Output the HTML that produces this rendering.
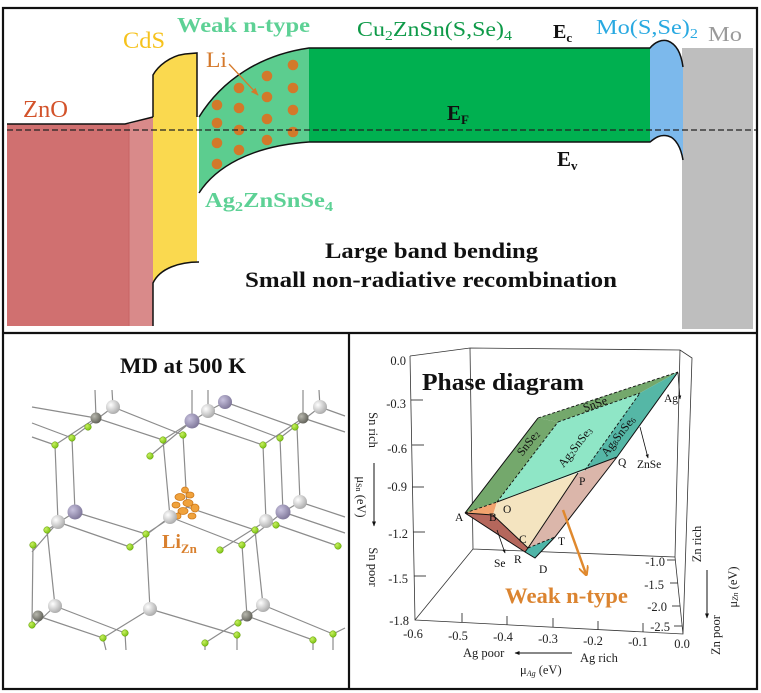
<!DOCTYPE html>
<html><head><meta charset="utf-8"><style>
html,body{margin:0;padding:0;background:#fff;}
svg{display:block;font-family:"Liberation Serif",serif;}
</style></head><body>
<svg width="761" height="693" viewBox="0 0 761 693" xmlns="http://www.w3.org/2000/svg">
<defs>
<marker id="ah" viewBox="0 0 10 10" refX="9" refY="5" markerWidth="5" markerHeight="5" orient="auto"><path d="M0,1 L10,5 L0,9 z" fill="#111"/></marker>
<marker id="ahor" viewBox="0 0 10 10" refX="9" refY="5" markerWidth="6" markerHeight="6" orient="auto"><path d="M0,1 L10,5 L0,9 z" fill="#d57a2a"/></marker>
<marker id="ahor2" viewBox="0 0 10 10" refX="8" refY="5" markerWidth="4" markerHeight="4" orient="auto"><path d="M0,0 L10,5 L0,10" fill="none" stroke="#e0892e" stroke-width="2"/></marker>
<radialGradient id="gs" cx="35%" cy="35%" r="70%"><stop offset="0" stop-color="#ffffff"/><stop offset="1" stop-color="#a9a9a9"/></radialGradient>
<radialGradient id="gp" cx="35%" cy="35%" r="70%"><stop offset="0" stop-color="#c8c2de"/><stop offset="1" stop-color="#7d7598"/></radialGradient>
<radialGradient id="gd" cx="35%" cy="35%" r="70%"><stop offset="0" stop-color="#b8b8ae"/><stop offset="1" stop-color="#5e5e56"/></radialGradient>
<radialGradient id="gg" cx="35%" cy="35%" r="70%"><stop offset="0" stop-color="#c8f060"/><stop offset="1" stop-color="#78c010"/></radialGradient>
</defs>
<rect width="761" height="693" fill="#fff"/>

<!-- ===== TOP PANEL ===== -->
<rect x="7" y="124" width="122" height="202" fill="#d07070"/>
<polygon points="129,124 153,117 153,326 129,326" fill="#d98a8a"/>
<line x1="129" y1="124" x2="129" y2="326" stroke="#c86464" stroke-width="1"/>
<path d="M153,117 L153,75 C158,66 170,56 185,54 L197,53 L197,262 C180,262 160,268 153,283 Z" fill="#fad94f"/>
<path d="M199,117 C222,80 260,55 309,48 L309,142 C250,146 215,168 199,193 Z" fill="#5ccd8f"/>
<rect x="309" y="48" width="341" height="94" fill="#00b050"/>
<rect x="682" y="48" width="71" height="281" fill="#bebebe"/>
<path d="M650,48 C655,42 662,39 668,41 C676,44 681,52 683,67 L683,160 C681,148 676,138 668,136 C660,134 655,138 650,142 Z" fill="#7cb9ec"/>
<!-- dots -->
<g fill="#d2792a">
<circle cx="217" cy="105" r="5.3"/><circle cx="217" cy="123" r="5.3"/><circle cx="217" cy="143" r="5.3"/><circle cx="217" cy="164" r="5.3"/>
<circle cx="239" cy="88" r="5.3"/><circle cx="239" cy="108" r="5.3"/><circle cx="239" cy="130" r="5.3"/><circle cx="239" cy="150" r="5.3"/>
<circle cx="267" cy="76" r="5.3"/><circle cx="267" cy="97" r="5.3"/><circle cx="267" cy="119" r="5.3"/><circle cx="267" cy="140" r="5.3"/>
<circle cx="293" cy="65" r="5.3"/><circle cx="293" cy="88" r="5.3"/><circle cx="293" cy="110" r="5.3"/><circle cx="293" cy="132" r="5.3"/>
</g>
<!-- black outlines -->
<g fill="none" stroke="#111" stroke-width="1.5">
<path d="M7,124 L125,124 L153,117"/>
<path d="M153,117 L153,75 C158,66 170,56 185,54 L197,53 L197,117"/>
<path d="M153,326 L153,283 C160,268 180,262 199,262"/>
<path d="M199,117 C222,80 260,55 309,48 L650,48 C655,42 662,39 668,41 C676,44 681,52 683,67"/>
<path d="M199,193 C215,168 250,146 309,142 L650,142 C655,138 660,134 668,136 C676,138 681,148 683,160"/>
</g>
<line x1="7" y1="130" x2="757" y2="130" stroke="#222" stroke-width="1.3" stroke-dasharray="6 3"/>
<line x1="229" y1="64" x2="258" y2="95" stroke="#d57a2a" stroke-width="1.3" marker-end="url(#ahor)"/>

<text x="23" y="117" font-size="24" fill="#d3532b" textLength="45" lengthAdjust="spacingAndGlyphs">ZnO</text>
<text x="123" y="48" font-size="23" fill="#f6c21c" textLength="42" lengthAdjust="spacingAndGlyphs">CdS</text>
<text x="177" y="32" font-size="21" font-weight="bold" fill="#5dd195" textLength="133" lengthAdjust="spacingAndGlyphs">Weak n-type</text>
<text x="206" y="67" font-size="22" fill="#d4782a" textLength="21" lengthAdjust="spacingAndGlyphs">Li</text>
<text x="205" y="207" font-size="21" font-weight="bold" fill="#5dd195" textLength="128" lengthAdjust="spacingAndGlyphs">Ag<tspan font-size="14" dy="4">2</tspan><tspan dy="-4">ZnSnSe</tspan><tspan font-size="14" dy="4">4</tspan></text>
<text x="357" y="36" font-size="21" fill="#0e9a48" textLength="155" lengthAdjust="spacingAndGlyphs">Cu<tspan font-size="14" dy="4">2</tspan><tspan dy="-4">ZnSn(S,Se)</tspan><tspan font-size="14" dy="4">4</tspan></text>
<text x="553" y="38" font-size="20" font-weight="bold" fill="#111">E<tspan font-size="13" dy="4">c</tspan></text>
<text x="596" y="34" font-size="21" fill="#29a9e1" textLength="102" lengthAdjust="spacingAndGlyphs">Mo(S,Se)<tspan font-size="14" dy="4">2</tspan></text>
<text x="708" y="41" font-size="21" fill="#9a9a9a" textLength="34" lengthAdjust="spacingAndGlyphs">Mo</text>
<text x="447" y="120" font-size="21" font-weight="bold" fill="#111">E<tspan font-size="13" dy="4">F</tspan></text>
<text x="557" y="166" font-size="21" font-weight="bold" fill="#111">E<tspan font-size="13" dy="4">v</tspan></text>
<text x="325" y="258" font-size="22" font-weight="bold" fill="#111" textLength="213" lengthAdjust="spacingAndGlyphs">Large band bending</text>
<text x="245" y="287" font-size="22" font-weight="bold" fill="#111" textLength="372" lengthAdjust="spacingAndGlyphs">Small non-radiative recombination</text>

<!-- ===== BOTTOM LEFT: crystal ===== -->
<text x="120" y="373" font-size="22" font-weight="bold" fill="#111" textLength="126" lengthAdjust="spacingAndGlyphs">MD at 500 K</text>
<g stroke="#8c8c8c" stroke-width="1.2" fill="none">
<path d="M95,390L96,418M112,390L113,407M192,390L192,421M208,390L208,411M303,390L303,418M319,390L320,407
M55,445L58,522M72,438L75,512M163,440L170,517M183,435L187,507M263,445L266,521M280,438L283,512M297,427L300,502
M33,545L32,625M47,530L55,606M146,534L150,609M242,545L247,616M255,530L263,605
M103,638L106,650M125,633L126,650M205,643L205,650M237,635L237,650M313,640L313,650M333,634L333,650
M55,445L96,418M72,438L113,407M150,456L192,421M163,440L208,411M208,411L225,402M263,445L303,418M280,438L320,407
M32,552L58,522M47,530L75,512M130,547L170,517M146,534L187,507M220,550L266,521M242,545L283,512M283,512L300,502
M32,628L55,606M103,638L150,609M205,643L247,616M238,623L263,605
M32,407L96,418M32,423L72,438M32,437L55,445M96,418L163,440M113,407L183,435M192,421L263,445M208,411L280,438M225,402L295,427M303,418L345,432M320,407L345,416
M58,522L130,547M75,512L146,534M170,517L242,545M187,507L255,530M266,521L338,546M283,512L345,533M300,502L345,517
M38,616L103,638M55,606L125,633M150,609L237,635M247,616L313,640M263,605L333,634M333,634L345,628"/>
</g>
<g fill="url(#gg)" stroke="#6aa010" stroke-width="0.5">
<circle cx="55" cy="445" r="3.3"/><circle cx="72" cy="438" r="3.3"/><circle cx="88" cy="427" r="3.3"/>
<circle cx="150" cy="456" r="3.3"/><circle cx="163" cy="440" r="3.3"/><circle cx="183" cy="435" r="3.3"/>
<circle cx="263" cy="445" r="3.3"/><circle cx="280" cy="438" r="3.3"/><circle cx="295" cy="427" r="3.3"/>
<circle cx="33" cy="545" r="3.3"/><circle cx="47" cy="530" r="3.3"/>
<circle cx="130" cy="547" r="3.3"/><circle cx="146" cy="534" r="3.3"/>
<circle cx="220" cy="550" r="3.3"/><circle cx="242" cy="545" r="3.3"/><circle cx="255" cy="530" r="3.3"/><circle cx="276" cy="525" r="3.3"/><circle cx="338" cy="546" r="3.3"/>
<circle cx="32" cy="625" r="3.3"/><circle cx="103" cy="638" r="3.3"/><circle cx="125" cy="633" r="3.3"/>
<circle cx="205" cy="643" r="3.3"/><circle cx="237" cy="635" r="3.3"/><circle cx="238" cy="623" r="3.3"/>
<circle cx="313" cy="640" r="3.3"/><circle cx="333" cy="634" r="3.3"/>
</g>
<g>
<circle cx="113" cy="407" r="7" fill="url(#gs)"/><circle cx="96" cy="418" r="5.5" fill="url(#gd)"/>
<circle cx="225" cy="402" r="7" fill="url(#gp)"/><circle cx="208" cy="411" r="7" fill="url(#gs)"/><circle cx="192" cy="421" r="7.5" fill="url(#gp)"/>
<circle cx="320" cy="407" r="7" fill="url(#gs)"/><circle cx="303" cy="418" r="5.5" fill="url(#gd)"/>
<circle cx="75" cy="512" r="7.5" fill="url(#gp)"/><circle cx="58" cy="522" r="7" fill="url(#gs)"/>
<circle cx="300" cy="502" r="7" fill="url(#gs)"/><circle cx="283" cy="512" r="7.5" fill="url(#gp)"/><circle cx="266" cy="521" r="7" fill="url(#gs)"/>
<circle cx="55" cy="606" r="7" fill="url(#gs)"/><circle cx="38" cy="616" r="5.5" fill="url(#gd)"/>
<circle cx="150" cy="609" r="7" fill="url(#gs)"/>
<circle cx="263" cy="605" r="7" fill="url(#gs)"/><circle cx="247" cy="616" r="5.5" fill="url(#gd)"/>
</g>
<!-- orange blob -->
<g fill="#f0a23c" stroke="#cf7a1c" stroke-width="0.8">
<ellipse cx="180" cy="497" rx="5" ry="3.5"/><ellipse cx="190" cy="495" rx="4" ry="3"/><ellipse cx="176" cy="505" rx="4" ry="3"/>
<ellipse cx="188" cy="503" rx="5" ry="3.5"/><ellipse cx="195" cy="508" rx="4" ry="4"/><ellipse cx="183" cy="511" rx="5" ry="3.5"/>
<ellipse cx="192" cy="516" rx="4" ry="3"/><ellipse cx="185" cy="490" rx="3.5" ry="3"/><ellipse cx="178" cy="516" rx="3" ry="3"/>
</g>
<circle cx="170" cy="517" r="7" fill="url(#gs)"/>
<text x="162" y="548" font-size="20" font-weight="bold" fill="#d9802e">Li<tspan font-size="13" dy="5">Zn</tspan></text>

<!-- ===== BOTTOM RIGHT: phase diagram ===== -->
<g stroke="#333" stroke-width="0.8" fill="none">
<path d="M410,356L415,620L683,634L692,358L680,350L470,348L410,356M470,348L473,549L415,620M473,549L675,557L683,634M680,350L675,557"/>
</g>
<!-- faces -->
<polygon points="465,513 538,418 558,422 497,502" fill="#74a86c"/>
<polygon points="538,418 678,372 640,393 558,422" fill="#74a86c"/>
<polygon points="497,502 558,422 640,393 585,470" fill="#8fe6c6"/>
<polygon points="585,470 640,393 678,372 617,457" fill="#55b7a6"/>
<polygon points="465,513 497,502 493,515" fill="#f2a46e"/>
<polygon points="465,513 493,515 528,548 525,552" fill="#b5675c"/>
<polygon points="497,502 578,473 528,548 493,515" fill="#f4e4c0"/>
<polygon points="578,473 617,457 555,537 528,548" fill="#dbb6aa"/>
<polygon points="528,548 555,537 535,558 525,552" fill="#4fb5a8"/>
<g stroke="#111" stroke-width="1" fill="none">
<path d="M465,513L538,418M678,372L617,457M465,513L525,552L535,558L555,537L617,457M497,502L617,457M493,515L528,548L578,473M465,513L493,515M528,548L525,552"/>
</g>
<g stroke="#111" stroke-width="0.9" fill="none" stroke-dasharray="3 2">
<path d="M538,418L678,372M558,422L640,393M497,502L558,422M585,470L640,393M465,513L497,502M528,548L555,537"/>
</g>
<!-- face labels -->
<g font-size="12" fill="#111">
<text transform="translate(528,443) rotate(-52)" text-anchor="middle" dominant-baseline="central">SnSe<tspan font-size="8" dy="2">2</tspan></text>
<text transform="translate(575,447) rotate(-52)" text-anchor="middle" dominant-baseline="central">Ag<tspan font-size="8" dy="2">2</tspan><tspan dy="-2">SnSe</tspan><tspan font-size="8" dy="2">3</tspan></text>
<text transform="translate(618,436) rotate(-52)" text-anchor="middle" dominant-baseline="central">Ag<tspan font-size="8" dy="2">8</tspan><tspan dy="-2">SnSe</tspan><tspan font-size="8" dy="2">6</tspan></text>
<text transform="translate(595,404) rotate(-20)" text-anchor="middle" dominant-baseline="central">SnSe</text>
</g>
<g font-size="11.5" fill="#111">
<text x="455" y="521">A</text><text x="489" y="521">B</text><text x="503" y="513">O</text>
<text x="579" y="485">P</text><text x="618" y="466">Q</text><text x="519" y="543">C</text>
<text x="514" y="563">R</text><text x="539" y="573">D</text><text x="558" y="545">T</text>
<text x="494" y="567">Se</text><text x="637" y="468">ZnSe</text><text x="664" y="402">Ag</text>
</g>
<g stroke="#111" stroke-width="0.8" fill="none">
<line x1="497" y1="530" x2="505" y2="553" marker-end="url(#ah)"/>
<line x1="640" y1="427" x2="648" y2="458" marker-end="url(#ah)"/>
<line x1="678" y1="373" x2="680" y2="399" marker-end="url(#ah)"/>
</g>
<line x1="563" y1="510" x2="586" y2="574" stroke="#e0892e" stroke-width="2.5" marker-end="url(#ahor2)"/>
<text x="505" y="603" font-size="22" font-weight="bold" fill="#db8430" textLength="123" lengthAdjust="spacingAndGlyphs">Weak n-type</text>
<text x="422" y="390" font-size="24" font-weight="bold" fill="#111" textLength="162" lengthAdjust="spacingAndGlyphs">Phase diagram</text>

<!-- ticks -->
<g stroke="#333" stroke-width="0.9">
<line x1="411" y1="400" x2="423" y2="400"/><line x1="412" y1="445" x2="424" y2="445"/><line x1="412" y1="487" x2="424" y2="487"/>
<line x1="413" y1="532" x2="425" y2="532"/><line x1="414" y1="576" x2="426" y2="576"/>
<line x1="462" y1="622" x2="462" y2="613"/><line x1="507" y1="625" x2="507" y2="616"/><line x1="553" y1="627" x2="553" y2="618"/>
<line x1="598" y1="630" x2="598" y2="621"/><line x1="643" y1="632" x2="643" y2="623"/>
<line x1="675" y1="560" x2="667" y2="560"/><line x1="678" y1="583" x2="670" y2="583"/><line x1="680" y1="606" x2="672" y2="606"/><line x1="682" y1="626" x2="674" y2="626"/>
</g>
<g font-size="12.5" fill="#222" text-anchor="end">
<text x="406" y="365">0.0</text><text x="406" y="408">-0.3</text><text x="407" y="453">-0.6</text>
<text x="407" y="491">-0.9</text><text x="408" y="538">-1.2</text><text x="408" y="583">-1.5</text><text x="409" y="625">-1.8</text>
<text x="665" y="566">-1.0</text><text x="664" y="589">-1.5</text><text x="667" y="611">-2.0</text><text x="670" y="631">-2.5</text>
</g>
<g font-size="12.5" fill="#222" text-anchor="middle">
<text x="413" y="638">-0.6</text><text x="458" y="640">-0.5</text><text x="503" y="641">-0.4</text>
<text x="548" y="643">-0.3</text><text x="593" y="645">-0.2</text><text x="638" y="646">-0.1</text><text x="682" y="648">0.0</text>
</g>
<!-- axis titles -->
<g font-size="12.5" fill="#222">
<text transform="translate(373,430) rotate(90)" text-anchor="middle" dominant-baseline="central">Sn rich</text>
<text transform="translate(361,497) rotate(90)" text-anchor="middle" dominant-baseline="central">μ<tspan font-size="8" dy="2">Sn</tspan><tspan dy="-2"> (eV)</tspan></text>
<text transform="translate(373,567) rotate(90)" text-anchor="middle" dominant-baseline="central">Sn poor</text>
<text x="463" y="657">Ag poor</text>
<text x="580" y="662">Ag rich</text>
<text x="520" y="674">μ<tspan font-size="8" dy="2" font-style="italic">Ag</tspan><tspan dy="-2"> (eV)</tspan></text>
<text transform="translate(697,544) rotate(-90)" text-anchor="middle" dominant-baseline="central">Zn rich</text>
<text transform="translate(716,635) rotate(-90)" text-anchor="middle" dominant-baseline="central">Zn poor</text>
<text transform="translate(733,587) rotate(-90)" text-anchor="middle" dominant-baseline="central">μ<tspan font-size="8" dy="2" font-style="italic">Zn</tspan><tspan dy="-2"> (eV)</tspan></text>
</g>
<g stroke="#111" stroke-width="1" fill="none">
<line x1="374" y1="463" x2="374" y2="526" marker-end="url(#ah)"/>
<line x1="572" y1="653" x2="515" y2="653" marker-end="url(#ah)"/>
<line x1="707" y1="570" x2="707" y2="618" marker-end="url(#ah)"/>
</g>

<!-- frames -->
<g stroke="#111" fill="none" stroke-width="2.2">
<rect x="3" y="8" width="754" height="681"/>
<line x1="3" y1="333" x2="757" y2="333"/>
<line x1="349" y1="333" x2="349" y2="689"/>
</g>
</svg>
</body></html>
